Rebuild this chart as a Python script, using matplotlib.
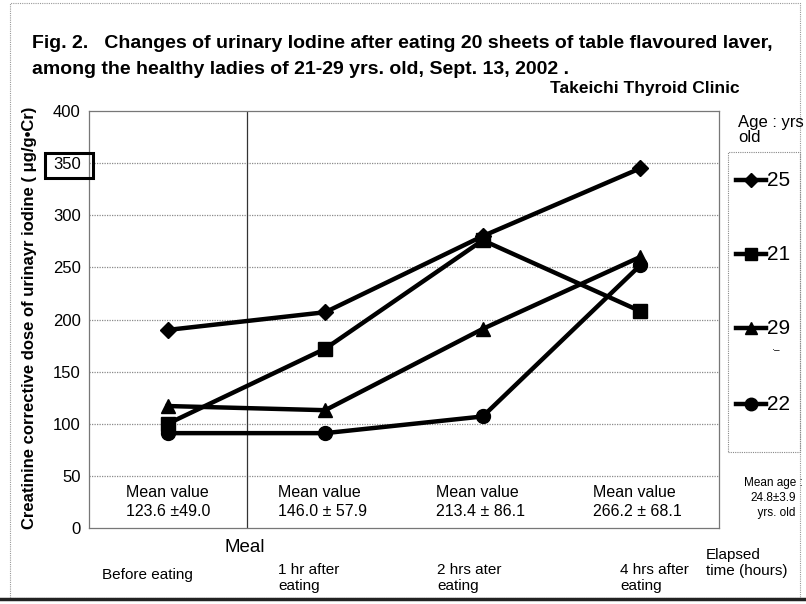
import matplotlib
matplotlib.use("Agg")
import matplotlib.pyplot as plt
from matplotlib.patches import Rectangle
from matplotlib.lines import Line2D

W, H = 806, 604
times = [0, 1, 2, 3]
ages = ["25", "21", "29", "22"]
markers = ["D", "s", "^", "o"]
values = {
    "25": [190, 207, 280, 345],
    "21": [100, 172, 276, 208],
    "29": [117, 113, 191, 260],
    "22": [91, 91, 107, 252],
}
yticks = [0, 50, 100, 150, 200, 250, 300, 350, 400]
mean_texts = ["Mean value\n123.6 \u00b149.0", "Mean value\n146.0 \u00b1 57.9",
              "Mean value\n213.4 \u00b1 86.1", "Mean value\n266.2 \u00b1 68.1"]
time_labels = ["Before eating", "1 hr after\neating", "2 hrs ater\neating", "4 hrs after\neating"]

NARROW = ["Liberation Sans Narrow", "Liberation Sans", "DejaVu Sans"]
REG = ["Liberation Sans", "DejaVu Sans"]

fig = plt.figure(figsize=(W / 100, H / 100), dpi=100)

def fx(x):
    return x / W

def fy(y):
    return 1 - y / H

# outer frame
fig.add_artist(Rectangle((fx(10), fy(598)), fx(800) - fx(10), fy(3) - fy(598),
                         transform=fig.transFigure, fill=False, ec="#999999", lw=0.8, ls=(0, (1, 1))))
fig.add_artist(Line2D([fx(0), 1], [fy(599), fy(599)], transform=fig.transFigure, color="#222222", lw=2.5))

ax = fig.add_axes([fx(89), fy(528), fx(719) - fx(89), fy(111) - fy(528)])
ax.set_xlim(-0.5, 3.5)
ax.set_ylim(0, 400)
for yv in yticks[1:-1]:
    ax.axhline(yv, color="#8a8a8a", lw=0.9, ls=(0, (1, 1)), zorder=1)
ax.axvline(0.5, color="#333333", lw=0.9, zorder=1)
for s in ax.spines.values():
    s.set_color("#777777")
    s.set_linewidth(0.9)
ax.set_xticks([])
ax.set_yticks(yticks)
ax.set_yticklabels([str(v) for v in yticks], fontsize=12, family=REG)
ax.tick_params(axis="y", length=0, pad=6)

for age, m in zip(ages, markers):
    ms = 8 if m == "D" else 10
    ax.plot(times, values[age], color="black", lw=3.2, marker=m, ms=ms, zorder=3, clip_on=False)

for i, t in enumerate(mean_texts):
    if i == 0:
        ax.text(times[i], 25, t, ha="center", va="center", fontsize=11.5, family=NARROW, linespacing=1.3)
    else:
        ax.text(times[i] - 0.3, 25, t, ha="left", va="center", fontsize=11.5, family=NARROW, linespacing=1.3)

# boxed 350
fig.add_artist(Rectangle((fx(45), fy(178)), fx(93) - fx(45), fy(153) - fy(178),
                         transform=fig.transFigure, fill=False, ec="black", lw=2.2))

fig.text(fx(30), fy(318), "Creatinine corrective dose of urinayr iodine ( \u03bcg/g\u2022Cr)", rotation=90,
         ha="center", va="center", fontsize=12, fontweight="bold", family=REG)

# titles
fig.text(fx(32), fy(44), "Fig. 2.   Changes of urinary Iodine after eating 20 sheets of table flavoured laver,",
         ha="left", va="center", fontsize=14, fontweight="bold", family=NARROW)
fig.text(fx(32), fy(70), "among the healthy ladies of 21-29 yrs. old, Sept. 13, 2002 .",
         ha="left", va="center", fontsize=14, fontweight="bold", family=NARROW)
fig.text(fx(740), fy(89), "Takeichi Thyroid Clinic", ha="right", va="center",
         fontsize=12.5, fontweight="bold", family=NARROW)

# bottom labels
fig.text(fx(245), fy(548), "Meal", ha="center", va="center", fontsize=13.5, family=NARROW)
fig.text(fx(147), fy(575), time_labels[0], ha="center", va="center", fontsize=11, family=NARROW)
for xpx, lab in zip([278, 437, 620], time_labels[1:]):
    fig.text(fx(xpx), fy(578), lab, ha="left", va="center", fontsize=11, family=NARROW, linespacing=1.2)
fig.text(fx(706), fy(563), "Elapsed\ntime (hours)", ha="left", va="center", fontsize=11,
         family=NARROW, linespacing=1.2)

# legend area
fig.text(fx(738), fy(130), "Age : yrs\nold", ha="left", va="center", fontsize=12,
         family=REG, linespacing=1.0)
fig.add_artist(Rectangle((fx(728), fy(452)), fx(800) - fx(728), fy(152) - fy(452),
                         transform=fig.transFigure, fill=False, ec="#888888", lw=0.8, ls=(0, (1, 1))))
for age, m, ypx in zip(ages, markers, [180, 254, 328, 404]):
    ms = 7 if m == "D" else 9
    fig.add_artist(Line2D([fx(736), fx(766)], [fy(ypx), fy(ypx)], transform=fig.transFigure,
                          color="black", lw=3.2))
    fig.add_artist(Line2D([fx(751)], [fy(ypx)], transform=fig.transFigure, color="black",
                          marker=m, ms=ms))
    fig.text(fx(767), fy(ypx), age, ha="left", va="center", fontsize=15, family=REG)
fig.text(fx(776), fy(350), "\u00b7\u2013", ha="center", va="center", fontsize=7, family=REG)

fig.text(fx(773), fy(498), "Mean age :\n24.8\u00b13.9\n  yrs. old", ha="center", va="center",
         fontsize=8.5, family=NARROW, linespacing=1.3)

fig.savefig("out.png", dpi=100)
